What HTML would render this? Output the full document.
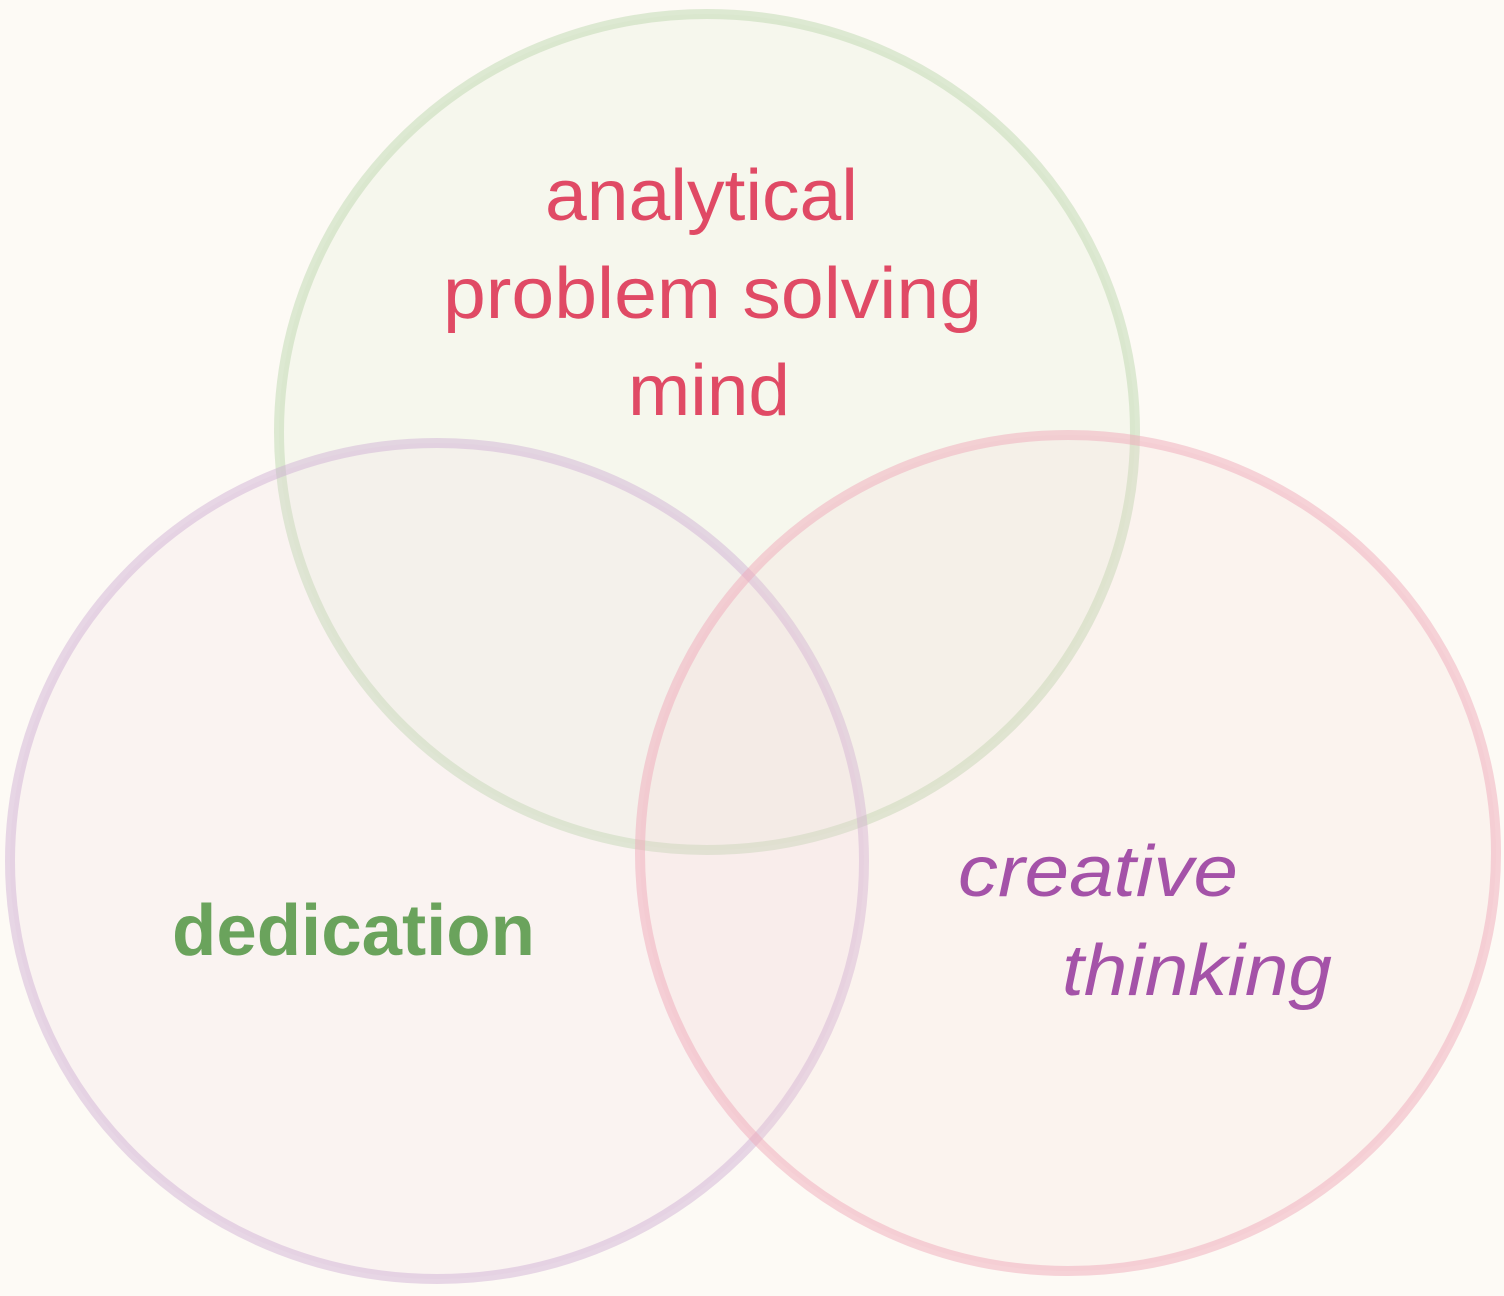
<!DOCTYPE html>
<html><head><meta charset="utf-8"><style>
html,body{margin:0;padding:0;background:#fdfaf5;}
svg{display:block}
text{font-family:"Liberation Sans","DejaVu Sans",sans-serif;}
</style></head><body>
<svg width="1504" height="1296" viewBox="0 0 1504 1296" xmlns="http://www.w3.org/2000/svg">
<rect width="1504" height="1296" fill="#fdfaf5"/>
<ellipse cx="707" cy="432" rx="428" ry="418" fill="rgba(225,235,210,0.22)" stroke="rgba(190,215,175,0.5)" stroke-width="10"/>
<ellipse cx="437" cy="861" rx="427" ry="418" fill="rgba(235,210,225,0.16)" stroke="rgba(205,170,210,0.45)" stroke-width="10"/>
<ellipse cx="1068" cy="853" rx="428" ry="418" fill="rgba(245,205,210,0.17)" stroke="rgba(240,170,185,0.5)" stroke-width="10"/>
<g fill="#e04a65" font-size="72">
<text x="545" y="220" textLength="313" lengthAdjust="spacingAndGlyphs">analytical</text>
<text x="443" y="318" textLength="539" lengthAdjust="spacingAndGlyphs">problem solving</text>
<text x="628" y="415" textLength="162" lengthAdjust="spacingAndGlyphs">mind</text>
</g>
<text x="172" y="955" fill="#6aa35c" font-size="72" font-weight="bold" textLength="363" lengthAdjust="spacingAndGlyphs">dedication</text>
<g fill="#a452a8" font-size="72" font-style="italic">
<text x="958" y="896" textLength="280" lengthAdjust="spacingAndGlyphs">creative</text>
<text x="1062" y="995" textLength="270" lengthAdjust="spacingAndGlyphs">thinking</text>
</g>
</svg>
</body></html>
